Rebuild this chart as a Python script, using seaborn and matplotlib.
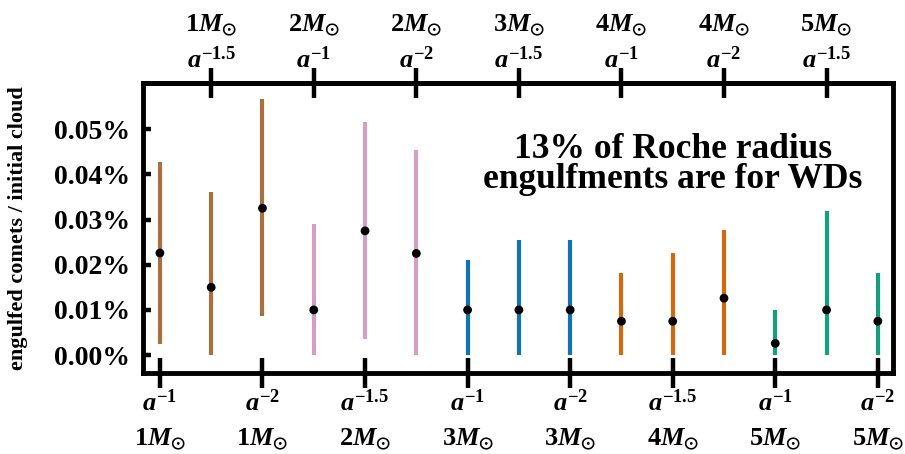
import matplotlib
matplotlib.use("Agg")
import matplotlib.pyplot as plt
import seaborn as sns
import pandas as pd
import numpy as np

# ---- data (values in percent) ----
positions = list(range(15))
masses = [1, 1, 1, 2, 2, 2, 3, 3, 3, 4, 4, 4, 5, 5, 5]
exponents = ["-1", "-1.5", "-2"] * 5
median = [0.0226, 0.0150, 0.0325, 0.0100, 0.0275, 0.0225, 0.0100, 0.0100, 0.0100,
          0.0075, 0.0075, 0.0126, 0.0026, 0.0100, 0.0075]
low = [0.0025, 0.0, 0.0086, 0.0, 0.0035, 0.0, 0.0, 0.0, 0.0,
       0.0, 0.0, 0.0, 0.0, 0.0, 0.0]
high = [0.0427, 0.0360, 0.0566, 0.0290, 0.0515, 0.0454, 0.0210, 0.0254, 0.0254,
        0.0182, 0.0226, 0.0277, 0.0100, 0.0318, 0.0182]
mass_colors = {1: "#A8703E", 2: "#D3A0BF", 3: "#1172B4", 4: "#D2690F", 5: "#13A07A"}
ytick_vals = [0.0, 0.01, 0.02, 0.03, 0.04, 0.05]
ytick_labels = ["0.00%", "0.01%", "0.02%", "0.03%", "0.04%", "0.05%"]
annotation = "13% of Roche radius\nengulfments are for WDs"
ylabel = "engulfed comets / initial cloud"

df = pd.DataFrame({"pos": positions, "mass": masses, "exp": exponents,
                   "median": median, "low": low, "high": high})

sns.set_theme(style="ticks")
plt.rcParams["font.family"] = ["Liberation Serif", "DejaVu Serif"]
plt.rcParams["font.weight"] = "bold"
plt.rcParams["mathtext.fontset"] = "custom"
plt.rcParams["mathtext.it"] = "Liberation Serif:bold:italic"
plt.rcParams["mathtext.rm"] = "Liberation Serif:bold"
plt.rcParams["mathtext.bf"] = "Liberation Serif:bold"
plt.rcParams["mathtext.fallback"] = "stix"
for k in ["text.color", "axes.labelcolor", "xtick.color", "ytick.color", "axes.edgecolor"]:
    plt.rcParams[k] = "black"

fig = plt.figure(figsize=(9.05, 4.54), dpi=100)
ax = fig.add_axes([0.158, 0.178, 0.829, 0.639])

for _, r in df.iterrows():
    ax.vlines(r["pos"], r["low"], r["high"], color=mass_colors[r["mass"]], lw=3.0, zorder=2)
sns.scatterplot(data=df, x="pos", y="median", color="black", s=40, edgecolor="none",
                ax=ax, zorder=3, legend=False)

ax.set_xlim(-0.33, 14.3)
ax.set_ylim(-0.004, 0.0602)

def lab_bottom(i):
    return "$a^{" + exponents[i] + "}$\n$" + str(masses[i]) + "M_{\\odot}$"

def lab_top(i):
    return "$" + str(masses[i]) + "M_{\\odot}$\n$a^{" + exponents[i] + "}$"

even = [p for p in positions if p % 2 == 0]
odd = [p for p in positions if p % 2 == 1]
ax.set_xticks(even)
ax.set_xticklabels([lab_bottom(i) for i in even], fontsize=19, linespacing=1.55)
ax.set_yticks(ytick_vals)
ax.set_yticklabels(ytick_labels, fontsize=20, fontweight="bold")
ax.tick_params(axis="x", direction="inout", length=21, width=3.2, pad=1)
ax.tick_params(axis="y", direction="in", length=6, width=3.2, pad=9)
ax.set_xlabel("")
ax.set_ylabel(ylabel, fontsize=16, fontweight="bold")
ax.yaxis.set_label_coords(-0.153, 0.5)

top = ax.secondary_xaxis("top")
top.set_xticks(odd)
top.set_xticklabels([lab_top(i) for i in odd], fontsize=19, linespacing=1.4)
top.tick_params(axis="x", direction="inout", length=21, width=3.2, pad=-3)
top.spines["top"].set_linewidth(3.5)

for s in ax.spines.values():
    s.set_linewidth(3.5)
    s.set_color("black")

ax.text(0.706, 0.72, annotation, transform=ax.transAxes, ha="center", va="center",
        fontsize=25.5, fontweight="bold", linespacing=0.88)

fig.savefig("out.png", dpi=100)
